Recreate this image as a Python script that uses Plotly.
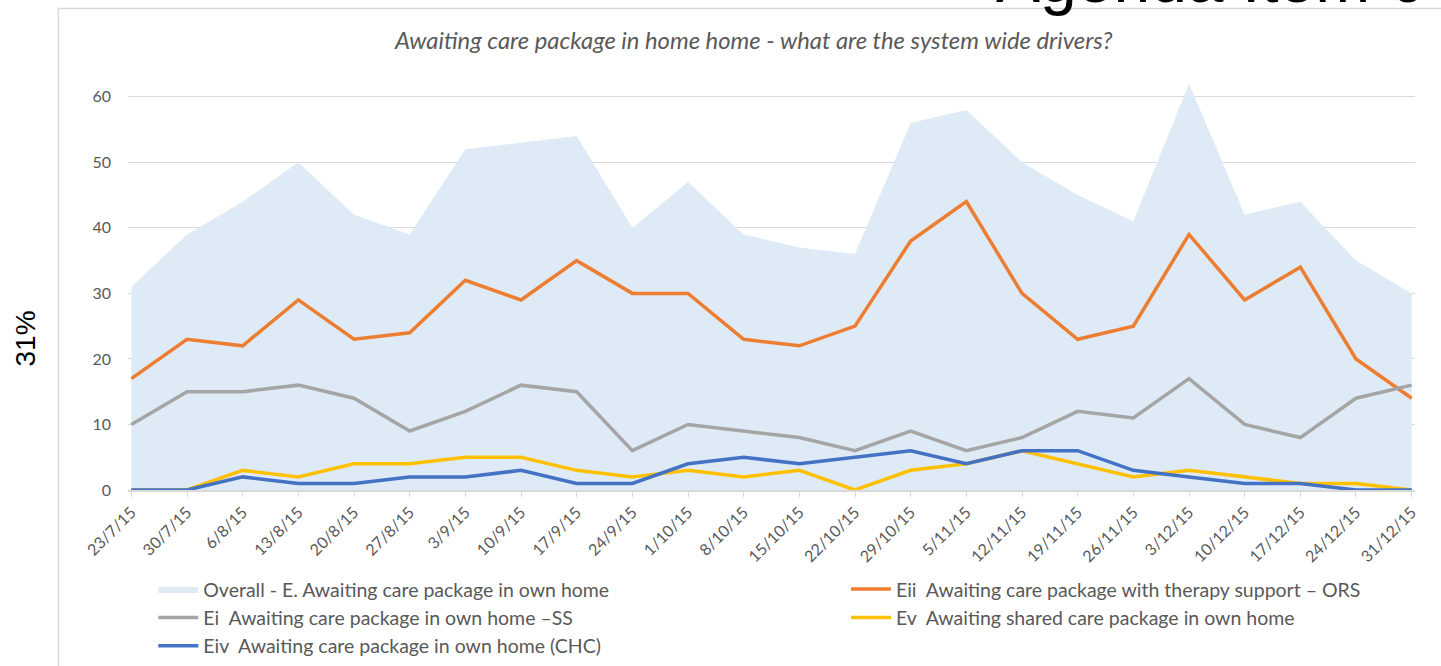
import plotly.graph_objects as go

# ---- data ----
dates = ["23/7/15", "30/7/15", "6/8/15", "13/8/15", "20/8/15", "27/8/15", "3/9/15",
         "10/9/15", "17/9/15", "24/9/15", "1/10/15", "8/10/15", "15/10/15", "22/10/15",
         "29/10/15", "5/11/15", "12/11/15", "19/11/15", "26/11/15", "3/12/15",
         "10/12/15", "17/12/15", "24/12/15", "31/12/15"]
overall = [31, 39, 44, 50, 42, 39, 52, 53, 54, 40, 47, 39, 37, 36, 56, 58, 50, 45, 41, 62, 42, 44, 35, 30]
eii = [17, 23, 22, 29, 23, 24, 32, 29, 35, 30, 30, 23, 22, 25, 38, 44, 30, 23, 25, 39, 29, 34, 20, 14]
ei = [10, 15, 15, 16, 14, 9, 12, 16, 15, 6, 10, 9, 8, 6, 9, 6, 8, 12, 11, 17, 10, 8, 14, 16]
ev = [0, 0, 3, 2, 4, 4, 5, 5, 3, 2, 3, 2, 3, 0, 3, 4, 6, 4, 2, 3, 2, 1, 1, 0]
eiv = [0, 0, 2, 1, 1, 2, 2, 3, 1, 1, 4, 5, 4, 5, 6, 4, 6, 6, 3, 2, 1, 1, 0, 0]

names = {
    "overall": "Overall - E. Awaiting care package in own home",
    "eii": "Eii  Awaiting care package with therapy support \u2013 ORS",
    "ei": "Ei  Awaiting care package in own home \u2013SS",
    "ev": "Ev  Awaiting shared care package in own home",
    "eiv": "Eiv  Awaiting care package in own home (CHC)",
}
title_text = "Awaiting care package in home home - what are the system wide drivers?"

# ---- geometry ----
W, H = 1441, 666
L, R = 127.7, 1415.3
T, B = 63.6, 490.0
YMAX = 65


def px2x(px):
    return (px - L) / (R - L)


def px2y(py):
    return (B - py) / (B - T)


FONT = "Lato, 'Open Sans', sans-serif"
GRAY_TXT = "#595959"

fig = go.Figure()
fig.add_trace(go.Scatter(x=dates, y=overall, name=names["overall"], mode="lines",
                         fill="tozeroy", fillcolor="#DEEBF7", line=dict(width=0, color="#DEEBF7"),
                         legend="legend", legendgroup="a"))
fig.add_trace(go.Scatter(x=dates, y=eii, name=names["eii"], mode="lines",
                         line=dict(color="#ED7D31", width=3.5), legend="legend2", legendgroup="b"))
fig.add_trace(go.Scatter(x=dates, y=ei, name=names["ei"], mode="lines",
                         line=dict(color="#A5A5A5", width=3.5), legend="legend", legendgroup="c"))
fig.add_trace(go.Scatter(x=dates, y=ev, name=names["ev"], mode="lines",
                         line=dict(color="#FFC000", width=3.5), legend="legend2", legendgroup="d"))
fig.add_trace(go.Scatter(x=dates, y=eiv, name=names["eiv"], mode="lines",
                         line=dict(color="#4472C4", width=3.5), legend="legend", legendgroup="e"))

legend_common = dict(orientation="v", xanchor="left", yanchor="top",
                     font=dict(family=FONT, size=19.5, color=GRAY_TXT),
                     bgcolor="rgba(0,0,0,0)", itemwidth=40, tracegroupgap=0,
                     traceorder="normal")

fig.update_layout(
    width=W, height=H,
    margin=dict(l=L, r=W - R, t=T, b=H - B, pad=0, autoexpand=False),
    paper_bgcolor="white", plot_bgcolor="white",
    showlegend=True,
    legend=dict(x=px2x(153), y=px2y(570), **legend_common),
    legend2=dict(x=px2x(846), y=px2y(570), **legend_common),
    xaxis=dict(type="category", range=[-0.06, 23.06], showgrid=False, automargin=False,
               showline=True, linecolor="#D9D9D9", linewidth=1.5,
               ticks="outside", ticklen=5, tickcolor="#D9D9D9", tickwidth=1,
               tickangle=-45, tickfont=dict(family=FONT, size=16, color=GRAY_TXT)),
    yaxis=dict(range=[0, YMAX], tickvals=[0, 10, 20, 30, 40, 50, 60], showgrid=True,
               automargin=False,
               gridcolor="#D9D9D9", gridwidth=1, zeroline=False, showline=False,
               ticks="", ticklabelstandoff=16,
               tickfont=dict(family=FONT, size=16, color=GRAY_TXT)),
    annotations=[
        dict(text=title_text, xref="paper", yref="paper", x=px2x(753), y=px2y(40),
             xanchor="center", yanchor="middle", showarrow=False,
             font=dict(family=FONT, size=23.8, color=GRAY_TXT, style="italic")),
        dict(text="31%", xref="paper", yref="paper", x=px2x(25), y=px2y(338),
             xanchor="center", yanchor="middle", showarrow=False, textangle=-90,
             font=dict(family="'Liberation Sans', Arial, sans-serif", size=28, color="black")),
        dict(text="Agenda Item 6", xref="paper", yref="paper", x=px2x(1427), y=px2y(18),
             xanchor="right", yanchor="bottom", showarrow=False,
             font=dict(family="'Liberation Sans', Arial, sans-serif", size=66, color="black")),
    ],
    shapes=[
        dict(type="line", xref="paper", yref="paper", x0=px2x(58), x1=px2x(58),
             y0=px2y(700), y1=px2y(8), line=dict(color="#D9D9D9", width=1.5)),
        dict(type="line", xref="paper", yref="paper", x0=px2x(58), x1=px2x(1460),
             y0=px2y(8), y1=px2y(8), line=dict(color="#D9D9D9", width=1.5)),
    ],
)

fig.write_html("out.html", config={"displayModeBar": False},
               post_script="document.body.style.margin='0px';document.body.style.overflow='hidden';")
